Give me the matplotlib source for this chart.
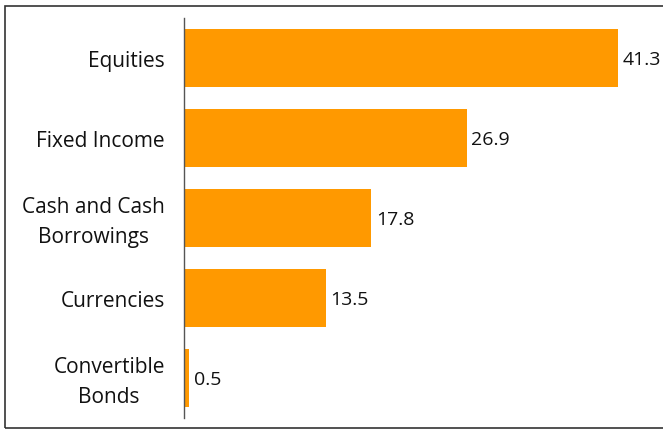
import matplotlib.pyplot as plt
from matplotlib.patches import Rectangle
from matplotlib.transforms import offset_copy

categories = ["Equities", "Fixed Income", "Cash and Cash\nBorrowings", "Currencies", "Convertible\nBonds"]
values = [41.3, 26.9, 17.8, 13.5, 0.5]

BAR_COLOR = "#FF9900"

plt.rcParams["font.family"] = ["Open Sans", "DejaVu Sans"]

W, H = 663, 430
fig = plt.figure(figsize=(W / 100, H / 100), dpi=100)

# frame around the chart area
fig.patches.append(Rectangle((5 / W, 2 / H), 1.2, 422 / H, transform=fig.transFigure,
                             fill=False, edgecolor="#333333", linewidth=1.2))

ax = fig.add_axes([184 / W, 12 / H, (W - 184) / W, 400 / H])
pos = list(range(len(categories)))
ax.barh(pos, values, height=0.725, color=BAR_COLOR, zorder=2)

ax.set_xlim(0, (W - 184) / 10.51)
ax.set_ylim(len(categories) - 0.5, -0.5)
ax.set_xticks([])
ax.set_yticks([])

# category labels, right-aligned just left of the axis line
label_tf = ax.get_yaxis_transform()
for p, name in zip(pos, categories):
    drop = -3 if "\n" in name else -2.3
    ax.text(-0.04, p, name, transform=offset_copy(label_tf, fig=fig, y=drop, units="points"),
            ha="right", va="center", multialignment="center", linespacing=1.55,
            fontsize=15, color="#111111")

for s in ["top", "right", "bottom"]:
    ax.spines[s].set_visible(False)
ax.spines["left"].set_color("#555555")
ax.spines["left"].set_linewidth(1.0)

for p, v in zip(pos, values):
    ax.text(v + 0.45, p + 0.02, f"{v:.1f}", va="center", ha="left", fontsize=14, color="#111111")

fig.savefig("out.png", dpi=100)
